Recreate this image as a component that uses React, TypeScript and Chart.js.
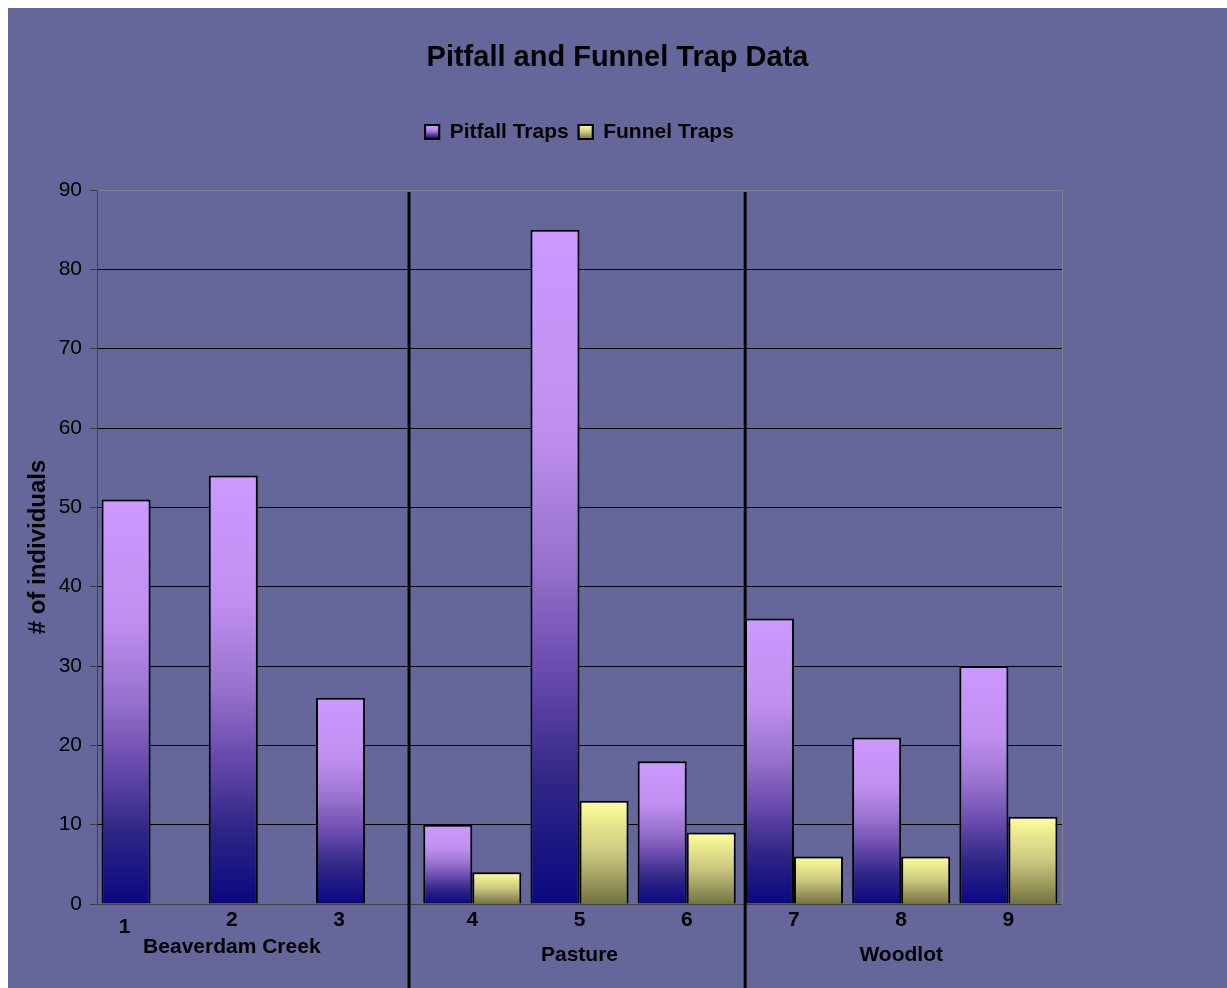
import React, { useEffect, useRef } from 'react';
import { Chart, registerables } from 'chart.js';
Chart.register(...registerables);

// trap numbers, one per sampling site
const categories = ['1', '2', '3', '4', '5', '6', '7', '8', '9'];
const pitfallTraps = [51, 54, 26, 10, 85, 18, 36, 21, 30];
const funnelTraps: (number | null)[] = [null, null, null, 4, 13, 9, 6, 6, 11];
const siteNames = ['Beaverdam Creek', 'Pasture', 'Woodlot'];
const siteSizes = [3, 3, 3];
const yMax = 90;
const yStep = 10;

const SANS = '"Liberation Sans", Arial, sans-serif';
const LEGEND_FONT = 21;

const PITFALL_STOPS: [number, string][] = [
    [0, '#CC99FF'], [0.3, '#BF8FF0'], [0.5, '#9670CC'], [0.65, '#6A4CAE'], [0.82, '#302686'], [1, '#0A0880'],
];
const FUNNEL_STOPS: [number, string][] = [
    [0, '#FFFF99'], [0.5, '#CBC980'], [1, '#737340'],
];
const dividerAt = [2.41, 5.545];

const barFill = (stops: [number, string][]) => (ctx: any) => {
    const chart = ctx.chart;
    if (ctx.type !== 'data' || !chart.chartArea) return stops[1][1];
    const v = ctx.parsed?.y;
    if (v == null) return 'transparent';
    const ys = chart.scales.y;
    const g = chart.ctx.createLinearGradient(0, ys.getPixelForValue(v), 0, ys.getPixelForValue(0));
    stops.forEach(([o, c]) => g.addColorStop(o, c));
    return g;
};

const siteAxisPlugin = {
    id: 'siteAxis',
    afterDraw(chart: any) {
        const c = chart.ctx;
        const x = chart.scales.x;
        const area = chart.chartArea;
        c.save();

        // group dividers
        c.strokeStyle = '#000';
        c.lineWidth = 3;
        dividerAt.forEach(v => {
            const px = x.getPixelForValue(v);
            c.beginPath();
            c.moveTo(px, area.top + 2);
            c.lineTo(px, chart.height);
            c.stroke();
        });

        // category + site labels
        c.fillStyle = '#000';
        c.textAlign = 'center';
        c.textBaseline = 'middle';
        c.font = `bold 21px ${SANS}`;
        let start = 0;
        siteNames.forEach((name, g) => {
            const shift = g === 0 ? -26 : 0;
            for (let i = start; i < start + siteSizes[g]; i++) {
                c.fillText(categories[i], x.getPixelForValue(i) + shift, area.bottom + (i === 0 ? 23 : 16));
            }
            const mid = x.getPixelForValue(start + (siteSizes[g] - 1) / 2) + shift;
            c.fillText(name, mid, area.bottom + (g === 0 ? 43 : 51));
            start += siteSizes[g];
        });

        // gradient legend boxes
        const boxes = chart.legend?.legendHitBoxes || [];
        const stops = [PITFALL_STOPS, FUNNEL_STOPS];
        boxes.forEach((hb: any, i: number) => {
            const bx = hb.left;
            const by = hb.top + (LEGEND_FONT - 14) / 2;
            const grad = c.createLinearGradient(0, by, 0, by + 14);
            stops[i].forEach(([o, col]) => grad.addColorStop(o, col));
            c.fillStyle = grad;
            c.fillRect(bx, by, 14, 14);
            c.strokeStyle = '#000';
            c.lineWidth = 2;
            c.strokeRect(bx, by, 14, 14);
        });
        c.restore();
    },
};

const App: React.FC = () => {
    const canvasRef = useRef<HTMLCanvasElement>(null);
    const chartRef = useRef<Chart | null>(null);

    useEffect(() => {
        document.body.style.margin = '0';
        document.body.style.overflow = 'hidden';
        if (!canvasRef.current) return;
        if (chartRef.current) chartRef.current.destroy();
        chartRef.current = new Chart(canvasRef.current, {
            type: 'bar',
            data: {
                labels: categories,
                datasets: [
                    {
                        label: 'Pitfall Traps',
                        data: pitfallTraps,
                        backgroundColor: barFill(PITFALL_STOPS),
                        borderColor: '#000',
                        borderWidth: 2,
                    },
                    {
                        label: 'Funnel Traps',
                        data: funnelTraps,
                        backgroundColor: barFill(FUNNEL_STOPS),
                        borderColor: '#000',
                        borderWidth: 2,
                    },
                ],
            },
            options: {
                responsive: true,
                maintainAspectRatio: false,
                animation: false,
                layout: { padding: 0 },
                datasets: { bar: { categoryPercentage: 0.915, barPercentage: 1 } },
                scales: {
                    x: {
                        ticks: { display: false },
                        grid: { display: false },
                        border: { display: true, color: '#404040', width: 1 },
                        afterFit: (s: any) => { s.height = 84; },
                    },
                    y: {
                        min: 0,
                        max: yMax,
                        ticks: { stepSize: yStep, color: '#000', padding: 8, font: { family: SANS, size: 21 } },
                        grid: {
                            color: (ctx: any) => ctx.tick?.value === yMax ? '#808080' : ctx.tick?.value === 0 ? '#404040' : '#000',
                            tickColor: '#404040',
                            tickLength: 7,
                            lineWidth: 1,
                        },
                        border: { display: true, color: '#404040', width: 1 },
                        title: {
                            display: true,
                            text: '# of individuals',
                            color: '#000',
                            font: { family: SANS, size: 24, weight: 'bold' },
                            padding: { top: 16, bottom: 0 },
                        },
                        afterFit: (s: any) => { s.width = 89; },
                    },
                    y2: {
                        position: 'right',
                        ticks: { display: false },
                        grid: { display: false, drawTicks: false },
                        border: { display: true, color: '#808080', width: 1 },
                        afterFit: (s: any) => { s.width = 165; },
                    },
                },
                plugins: {
                    title: {
                        display: true,
                        text: 'Pitfall and Funnel Trap Data',
                        color: '#000',
                        font: { family: SANS, size: 29, weight: 'bold' },
                        padding: { top: 33, bottom: 35.7 },
                    },
                    legend: {
                        display: true,
                        position: 'top',
                        fullSize: false,
                        weight: 1800,
                        labels: {
                            color: '#000',
                            boxWidth: 14,
                            boxHeight: 14,
                            padding: 10,
                            font: { family: SANS, size: LEGEND_FONT, weight: 'bold' },
                        },
                    } as any,
                    subtitle: {
                        display: true,
                        text: '',
                        weight: 1000,
                        font: { size: 1, lineHeight: 1 },
                        padding: { top: 36.5, bottom: 0 },
                    } as any,
                    tooltip: { enabled: false },
                },
            },
            plugins: [siteAxisPlugin],
        });
        return () => { if (chartRef.current) chartRef.current.destroy(); };
    }, []);

    return (
        <div style={{ padding: '8px 0 0 8px' }}>
            <div style={{ width: 1219, height: 980, background: '#65679A', position: 'relative' }}>
                <canvas ref={canvasRef}></canvas>
            </div>
        </div>
    );
};

export default App;
